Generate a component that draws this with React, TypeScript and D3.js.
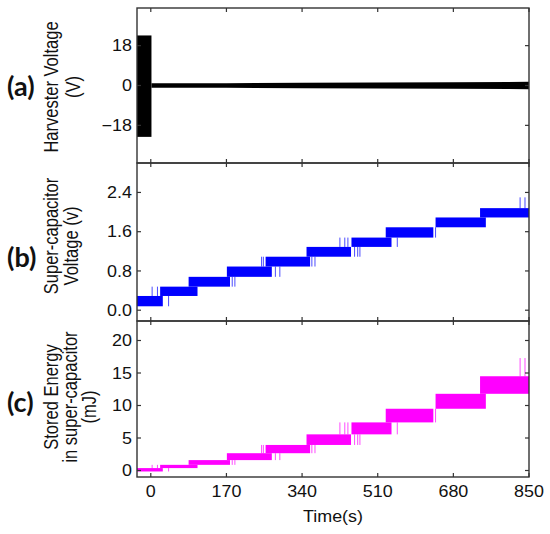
import * as d3 from 'd3';

// time axis (s)
const timeTicks = [0, 170, 340, 510, 680, 850];
const timeDomain = [-31, 850];

// (a) harvester voltage: initial burst, then small envelope around 0
const harvesterTicks = [-18, 0, 18];
const burstStart = -31;
const burstEnd = 1.5;
const burstHigh = 22.6;
const burstLow = -23.2;
const envTime = [1.5, 170, 340, 510, 680, 850];
const envAmp = [1.0, 1.05, 1.2, 1.3, 1.5, 1.65];

// (b)/(c) charging steps
const stepStart = [-31, 21, 85, 171, 258, 350, 451, 528, 640, 740];
const stepEnd = [27, 105, 178, 272, 358, 450, 541, 635, 753, 850];
const voltageTicks = [0.0, 0.8, 1.6, 2.4];
const voltageLow = [0.08, 0.29, 0.48, 0.68, 0.89, 1.09, 1.29, 1.48, 1.69, 1.89];
const voltageHigh = [0.29, 0.48, 0.68, 0.89, 1.09, 1.29, 1.48, 1.69, 1.89, 2.08];
const voltagePeak = 2.3;
const energyTicks = [0, 5, 10, 15, 20];
const energyLow = [-0.15, 0.37, 0.87, 1.6, 2.66, 3.93, 5.56, 7.4, 9.5, 11.8];
const energyHigh = [0.37, 0.87, 1.6, 2.66, 3.93, 5.56, 7.4, 9.5, 11.8, 14.5];
const energyPeak = 17.3;

// transition glitches: time and which step band they span (10 = peak above last step)
const spikeTime = [3, 15, 40, 183, 189, 249, 253, 280, 290, 362, 369, 425, 436, 443, 458, 465, 470, 554, 640, 830, 841];
const spikeStep = [1, 1, 0, 2, 2, 4, 4, 3, 3, 4, 4, 6, 6, 6, 5, 5, 5, 6, 7, 10, 10];

const W = 550;
const H = 534;
const left = 137;
const right = 529;
const FONT = '"Liberation Sans", Arial, sans-serif';
const TICK = 4;

const x = d3.scaleLinear().domain(timeDomain).range([left, right]);

type PanelProps = {
  top: number;
  bottom: number;
  ticks: number[];
  domain: [number, number];
  fmt: (v: number) => string;
  showX: boolean;
  children: (y: d3.ScaleLinear<number, number>) => any;
};

const Panel = ({ top, bottom, ticks, domain, fmt, showX, children }: PanelProps) => {
  const y = d3.scaleLinear().domain(domain).range([bottom, top]);
  return (
    <g>
      {children(y)}
      <rect x={left} y={top} width={right - left} height={bottom - top}
        fill="none" stroke="#333" strokeWidth={1.4} />
      {timeTicks.map(t => (
        <g key={'x' + t}>
          <line x1={x(t)} x2={x(t)} y1={top} y2={top + TICK} stroke="#333" strokeWidth={1.2} />
          <line x1={x(t)} x2={x(t)} y1={bottom} y2={bottom - TICK} stroke="#333" strokeWidth={1.2} />
          {showX && (
            <text transform={`translate(${x(t)},${bottom + 20}) scale(1.12,1)`}
              textAnchor="middle" fontSize={16} fontFamily={FONT} fill="#111">{t}</text>
          )}
        </g>
      ))}
      {ticks.map(v => (
        <g key={'y' + v}>
          <line x1={left} x2={left + TICK} y1={y(v)} y2={y(v)} stroke="#333" strokeWidth={1.2} />
          <line x1={right} x2={right - TICK} y1={y(v)} y2={y(v)} stroke="#333" strokeWidth={1.2} />
          <text transform={`translate(${left - 5},${y(v)}) scale(1.12,1)`} dy="0.36em"
            textAnchor="end" fontSize={16} fontFamily={FONT} fill="#111">{fmt(v)}</text>
        </g>
      ))}
    </g>
  );
};

const Steps = ({ y, low, high, peak, color }: {
  y: d3.ScaleLinear<number, number>; low: number[]; high: number[]; peak: number; color: string;
}) => (
  <g>
    {stepStart.map((s, i) => (
      <rect key={i} x={x(s)} width={x(stepEnd[i]) - x(s)} y={y(high[i])}
        height={y(low[i]) - y(high[i])} fill={color} />
    ))}
    {spikeTime.map((t, i) => {
      const k = spikeStep[i];
      const lo = k >= low.length ? high[low.length - 1] : low[k];
      const hi = k >= low.length ? peak : high[k];
      return (
        <line key={'s' + i} x1={x(t)} x2={x(t)} y1={y(lo)} y2={y(hi)}
          stroke={color} strokeWidth={1} opacity={0.7} />
      );
    })}
  </g>
);

const Title = ({ lines }: { lines: [string, number, number][] }) => (
  <g>
    {lines.map(([s, bx, c]) => (
      <text key={s} transform={`translate(${bx},${c}) scale(1.2,1) rotate(-90)`}
        textAnchor="middle" fontSize={16.5} fontFamily={FONT} fill="#111">{s}</text>
    ))}
  </g>
);

const Tag = ({ s, by }: { s: string; by: number }) => (
  <text x={7} y={by} fontSize={27} fontWeight={700} fontFamily="Lato, 'Open Sans', sans-serif" fill="#111">{s}</text>
);

export default function App() {
  const env = (y: d3.ScaleLinear<number, number>) =>
    d3.area<number>()
      .x((_, i) => x(envTime[i]))
      .y0((_, i) => y(-envAmp[i]))
      .y1((_, i) => y(envAmp[i]))(envTime) || '';

  return (
    <svg width={W} height={H} style={{ position: 'absolute', left: 0, top: 0, background: '#fff' }}>
      <Panel top={8} bottom={163} ticks={harvesterTicks} domain={[-35, 35]} fmt={v => (v < 0 ? '\u2212' + Math.abs(v) : String(v))} showX={false}>
        {y => (
          <g>
            <rect x={x(burstStart)} width={x(burstEnd) - x(burstStart)} y={y(burstHigh)}
              height={y(burstLow) - y(burstHigh)} fill="#000" />
            <path d={env(y)} fill="#000" />
          </g>
        )}
      </Panel>
      <Panel top={163} bottom={321} ticks={voltageTicks} domain={[-0.22, 3.0]} fmt={v => v.toFixed(1)} showX={false}>
        {y => <Steps y={y} low={voltageLow} high={voltageHigh} peak={voltagePeak} color="#0000ff" />}
      </Panel>
      <Panel top={321} bottom={477} ticks={energyTicks} domain={[-1, 23]} fmt={v => String(v)} showX={true}>
        {y => <Steps y={y} low={energyLow} high={energyHigh} peak={energyPeak} color="#ff00ff" />}
      </Panel>

      <text transform={`translate(${(left + right) / 2},522) scale(1.12,1)`} textAnchor="middle"
        fontSize={16} fontFamily={FONT} fill="#111">Time(s)</text>

      <Title lines={[['Harvester Voltage', 58, 87], ['(V)', 80, 87]]} />
      <Title lines={[['Super-capacitor', 58, 236], ['Voltage (v)', 78, 246]]} />
      <Title lines={[['Stored Energy', 58, 397], ['in super-capacitor', 77, 397], ['(mJ)', 96, 407]]} />

      <Tag s="(a)" by={96} />
      <Tag s="(b)" by={267} />
      <Tag s="(c)" by={412} />
    </svg>
  );
}
